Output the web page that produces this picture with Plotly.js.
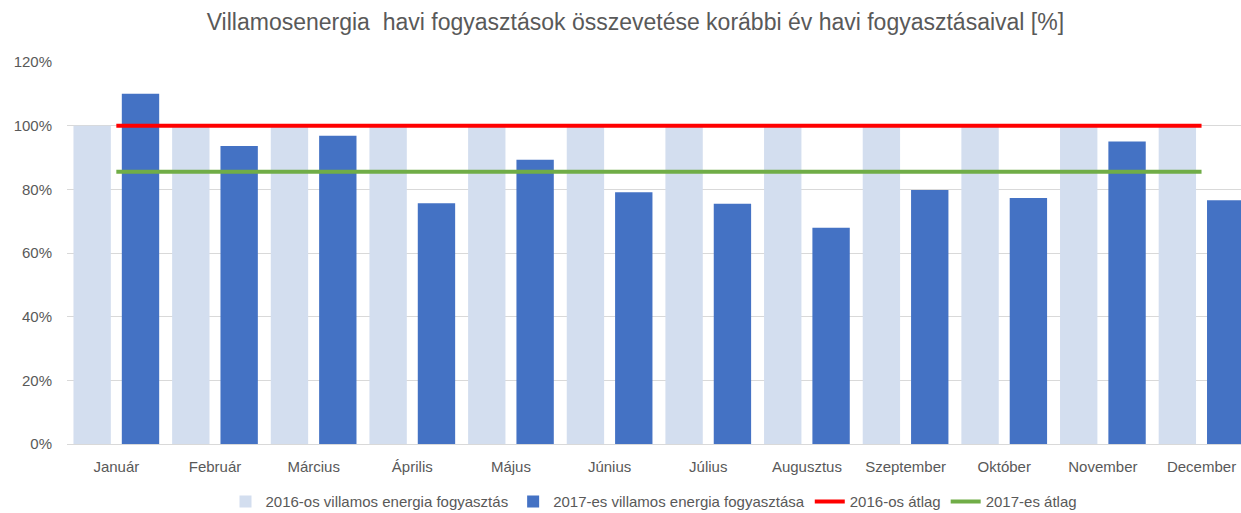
<!DOCTYPE html>
<html>
<head>
<meta charset="utf-8">
<script src="https://cdn.plot.ly/plotly-3.0.1.min.js"></script>
<style>html,body{margin:0;padding:0;overflow:hidden;background:#fff}</style>
</head>
<body>
<div id="chart" style="width:1241px;height:513px"></div>
<script>
const months = ['Január','Február','Március','Április','Május','Június','Július','Augusztus','Szeptember','Október','November','December'];
const consumption2016 = [100,100,100,100,100,100,100,100,100,100,100,100];
const consumption2017 = [110, 93.6, 96.8, 75.6, 89.3, 79.1, 75.5, 67.9, 79.8, 77.3, 95.0, 76.6];
const avg2016 = [100,100,100,100,100,100,100,100,100,100,100,100];
const avg2017 = [85.5,85.5,85.5,85.5,85.5,85.5,85.5,85.5,85.5,85.5,85.5,85.5];
const seriesNames = ['2016-os villamos energia fogyasztás','2017-es villamos energia fogyasztása','2016-os átlag','2017-es átlag'];

const font = 'Liberation Sans, Arial, sans-serif';
const traces = [
  {type:'bar', x:months, y:consumption2016, name:seriesNames[0], marker:{color:'#D3DEEF'}},
  {type:'bar', x:months, y:consumption2017, name:seriesNames[1], marker:{color:'#4472C4'}},
  {type:'scatter', mode:'lines', x:months, y:avg2016, name:seriesNames[2], line:{color:'#FF0000', width:4}},
  {type:'scatter', mode:'lines', x:months, y:avg2017, name:seriesNames[3], line:{color:'#70AD47', width:4}}
];
const layout = {
  width:1241, height:513,
  margin:{l:67, r:0, t:62, b:69, autoexpand:false},
  paper_bgcolor:'#fff', plot_bgcolor:'#fff',
  font:{family:font, color:'#595959', size:15},
  title:{text:'Villamosenergia  havi fogyasztások összevetése korábbi év havi fogyasztásaival [%]', x:0.512, xref:'container', xanchor:'center', y:0.957, yref:'container', yanchor:'middle', font:{family:font, size:23, color:'#595959'}},
  barmode:'group', bargap:0.02, bargroupgap:0.227,
  xaxis:{type:'category', range:[-0.5, 11.4], automargin:false, showgrid:false, showline:false, zeroline:false, ticks:'', tickfont:{size:15, color:'#595959'}, ticklabelstandoff:12, fixedrange:true},
  yaxis:{range:[0,120], dtick:20, ticksuffix:'%', automargin:false, showgrid:true, gridcolor:'#D9D9D9', gridwidth:1, zeroline:true, zerolinecolor:'#D9D9D9', zerolinewidth:1, showline:false, ticks:'', tickfont:{size:15, color:'#595959'}, ticklabelstandoff:14},
  legend:{orientation:'h', x:0.5, xanchor:'center', y:-0.108, yanchor:'top', font:{size:15, color:'#595959'}, traceorder:'normal'},
  showlegend:true
};
Plotly.newPlot('chart', traces, layout, {displayModeBar:false, staticPlot:true});
</script>
</body>
</html>
